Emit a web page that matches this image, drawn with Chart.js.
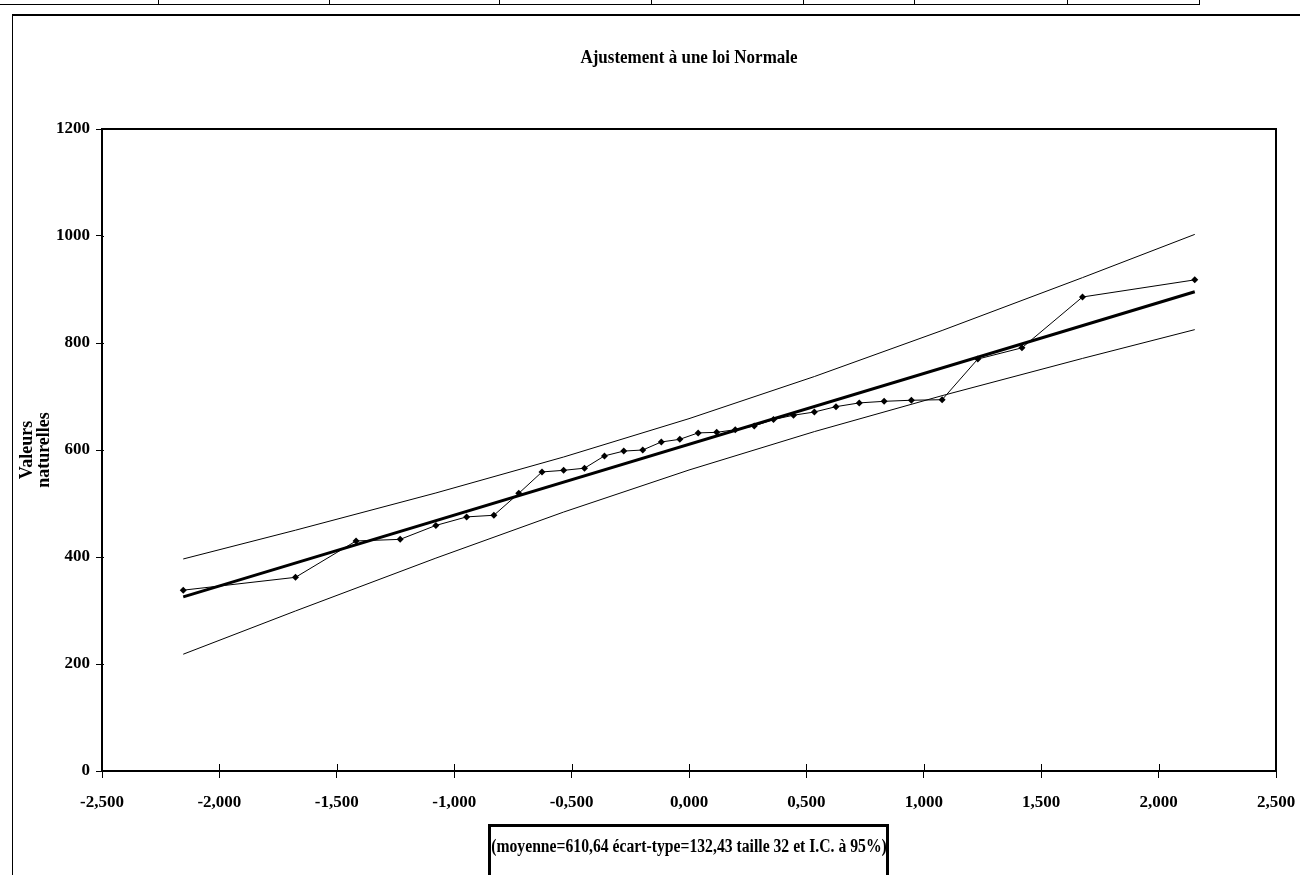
<!DOCTYPE html>
<html><head><meta charset="utf-8">
<script src="https://cdn.jsdelivr.net/npm/chart.js@4/dist/chart.umd.min.js"></script>
<style>
html,body{margin:0;padding:0;background:#fff;width:1300px;height:875px;overflow:hidden;position:relative}
#c{position:absolute;left:0;top:0}
.ln{position:absolute;background:#000}
</style></head><body>
<div class="ln" style="left:0;top:4px;width:1200px;height:1px"></div>
<div class="ln" style="left:158px;top:0;width:1px;height:5px"></div>
<div class="ln" style="left:329px;top:0;width:1px;height:5px"></div>
<div class="ln" style="left:499px;top:0;width:1px;height:5px"></div>
<div class="ln" style="left:651px;top:0;width:1px;height:5px"></div>
<div class="ln" style="left:803px;top:0;width:1px;height:5px"></div>
<div class="ln" style="left:914px;top:0;width:1px;height:5px"></div>
<div class="ln" style="left:1067px;top:0;width:1px;height:5px"></div>
<div class="ln" style="left:1199px;top:0;width:1px;height:5px"></div>
<div class="ln" style="left:12px;top:14px;width:1288px;height:2px"></div>
<div class="ln" style="left:12px;top:14px;width:1px;height:861px"></div>
<canvas id="c" width="1300" height="875"></canvas>
<script>
const zScores = [-2.154,-1.676,-1.418,-1.230,-1.078,-0.947,-0.831,-0.725,-0.626,-0.534,-0.445,-0.360,-0.278,-0.197,-0.118,-0.039,0.039,0.118,0.197,0.278,0.360,0.445,0.534,0.626,0.725,0.831,0.947,1.078,1.230,1.418,1.676,2.154];
const observed = [338,362,430,433,459,475,478,519,559,562,566,589,598,600,615,620,632,633,638,645,657,665,671,681,688,691,693,694,770,791,886,918];
const fitZ = [-2.154, 2.154];
const fitValues = [325.4, 895.9];
const bandZ = [-2.154,-1.676,-1.078,-0.534,0,0.534,1.078,1.676,2.154];
const upperBand = [396.3,450.1,519.7,586.9,658.6,737.3,823.4,922.2,1003.0];
const lowerBand = [218.3,299.1,397.9,484.0,562.6,634.4,701.6,771.2,825.0];
const xTickValues = [-2.5,-2,-1.5,-1,-0.5,0,0.5,1,1.5,2,2.5];
const yTickValues = [0,200,400,600,800,1000,1200];
const chartTitle = 'Ajustement à une loi Normale';
const yTitle = ['Valeurs','naturelles'];
const xTitle = '(moyenne=610,64 écart-type=132,43 taille 32 et I.C. à 95%)';

const pts = (xs, ys) => xs.map((x, i) => ({x, y: ys[i]}));
const FONT = 'Liberation Serif, Times New Roman, serif';

function tallText(ctx, text, x, y, stretch) {
  ctx.save();
  ctx.translate(x, y);
  ctx.scale(1, stretch);
  ctx.fillText(text, 0, 0);
  ctx.restore();
}

const deco = {
  id: 'deco',
  afterDraw(chart) {
    const {ctx, chartArea: a, scales} = chart;
    ctx.save();
    ctx.strokeStyle = '#000';
    ctx.lineWidth = 2;
    ctx.beginPath();
    ctx.moveTo(a.left, a.top); ctx.lineTo(a.right, a.top); ctx.lineTo(a.right, a.bottom);
    ctx.stroke();
    ctx.lineWidth = 1;
    scales.x.ticks.forEach(t => {
      const px = Math.round(scales.x.getPixelForValue(t.value)) + 0.5;
      ctx.beginPath(); ctx.moveTo(px, a.bottom); ctx.lineTo(px, a.bottom - 7); ctx.stroke();
    });
    scales.y.ticks.forEach(t => {
      const py = Math.round(scales.y.getPixelForValue(t.value)) + 0.5;
      ctx.beginPath(); ctx.moveTo(a.left, py); ctx.lineTo(a.left + 2, py); ctx.stroke();
    });
    ctx.fillStyle = '#000';
    ctx.textAlign = 'center';
    ctx.textBaseline = 'middle';
    ctx.font = 'bold 17px ' + FONT;
    tallText(ctx, chartTitle, (a.left + a.right) / 2, 58, 1.15);
    ctx.save();
    ctx.translate(35, (a.top + a.bottom) / 2);
    ctx.rotate(-Math.PI / 2);
    ctx.font = 'bold 18px ' + FONT;
    tallText(ctx, yTitle[0], 0, -8, 1.1);
    tallText(ctx, yTitle[1], 0, 9, 1.1);
    ctx.restore();
    ctx.lineWidth = 3;
    ctx.strokeRect(489.5, 825.5, 398, 70);
    ctx.font = 'bold 15.7px ' + FONT;
    tallText(ctx, xTitle, 689, 847, 1.2);
    ctx.restore();
  }
};

new Chart(document.getElementById('c'), {
  type: 'scatter',
  data: {
    datasets: [
      {label: 'Observé', data: pts(zScores, observed), showLine: true, borderColor: '#000', borderWidth: 1,
       pointStyle: 'rectRot', pointRadius: 3.5, pointBackgroundColor: '#000', pointBorderColor: '#000', pointBorderWidth: 0},
      {label: 'Droite', data: pts(fitZ, fitValues), showLine: true, borderColor: '#000', borderWidth: 3, pointRadius: 0},
      {label: 'Borne sup', data: pts(bandZ, upperBand), showLine: true, borderColor: '#000', borderWidth: 1, pointRadius: 0},
      {label: 'Borne inf', data: pts(bandZ, lowerBand), showLine: true, borderColor: '#000', borderWidth: 1, pointRadius: 0}
    ]
  },
  options: {
    responsive: false,
    animation: false,
    layout: {padding: {left: 12, right: 24, top: 129, bottom: 0}},
    plugins: {legend: {display: false}, title: {display: false}, tooltip: {enabled: false}},
    scales: {
      x: {
        type: 'linear', min: -2.5, max: 2.5,
        afterBuildTicks: s => { s.ticks = xTickValues.map(v => ({value: v})); },
        afterFit: s => { s.height = 104; s.paddingRight = 0; s.paddingLeft = 0; },
        ticks: {callback: v => Number(v).toFixed(3).replace('.', ','), color: '#000',
                font: {family: FONT, weight: 'bold', size: 17}, padding: 14, maxRotation: 0, autoSkip: false},
        grid: {drawOnChartArea: false, drawTicks: true, tickLength: 7, color: '#000', lineWidth: 1},
        border: {color: '#000', width: 2}
      },
      y: {
        type: 'linear', min: 0, max: 1200,
        afterBuildTicks: s => { s.ticks = yTickValues.map(v => ({value: v})); },
        afterFit: s => { s.width = 90; },
        ticks: {callback: v => String(v), color: '#000', font: {family: FONT, weight: 'bold', size: 17}, padding: 6},
        grid: {drawOnChartArea: false, drawTicks: true, tickLength: 6, color: '#000', lineWidth: 1},
        border: {color: '#000', width: 2}
      }
    }
  },
  plugins: [deco]
});
</script>
</body></html>
